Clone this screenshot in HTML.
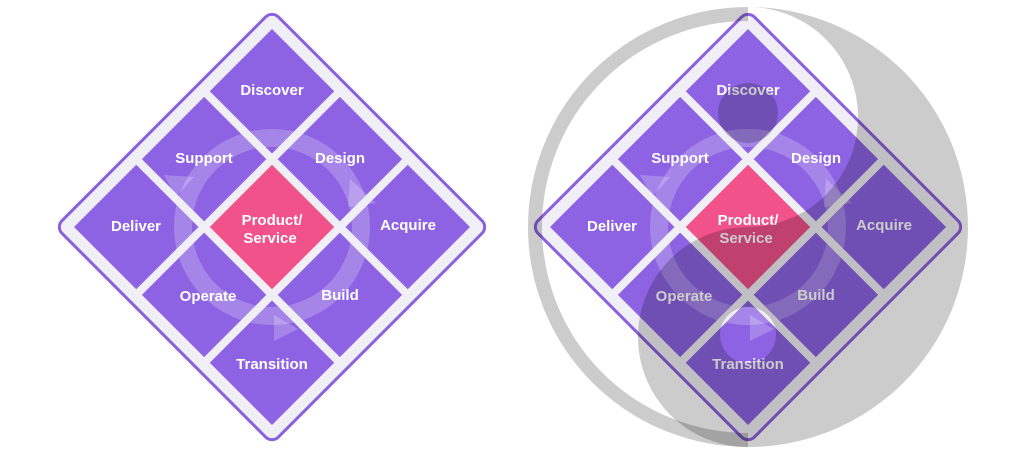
<!DOCTYPE html>
<html><head><meta charset="utf-8"><style>
html,body{margin:0;padding:0;background:#fff;width:1024px;height:459px;overflow:hidden}
text{font-family:"Liberation Sans",sans-serif;font-weight:bold;font-size:15px;fill:#fff;text-anchor:middle}
</style></head><body>
<svg width="1024" height="459" viewBox="0 0 1024 459" xmlns="http://www.w3.org/2000/svg">
<defs>
<clipPath id="tiles">
<rect x="-140" y="-140" width="88" height="88"/><rect x="-44" y="-140" width="88" height="88"/><rect x="52" y="-140" width="88" height="88"/>
<rect x="-140" y="-44" width="88" height="88"/><rect x="52" y="-44" width="88" height="88"/>
<rect x="-140" y="52" width="88" height="88"/><rect x="-44" y="52" width="88" height="88"/><rect x="52" y="52" width="88" height="88"/>
</clipPath>
<g id="dia">
<g transform="rotate(45)">
<rect x="-153" y="-153" width="306" height="306" rx="9" fill="#f0eff5" stroke="#8a60df" stroke-width="3"/>
<g fill="#8d63e3">
<rect x="-140" y="-140" width="88" height="88"/><rect x="-44" y="-140" width="88" height="88"/><rect x="52" y="-140" width="88" height="88"/>
<rect x="-140" y="-44" width="88" height="88"/><rect x="52" y="-44" width="88" height="88"/>
<rect x="-140" y="52" width="88" height="88"/><rect x="-44" y="52" width="88" height="88"/><rect x="52" y="52" width="88" height="88"/>
</g>
<rect x="-44" y="-44" width="88" height="88" fill="#f15289"/>
<g clip-path="url(#tiles)">
<circle cx="0" cy="0" r="89" fill="none" stroke="#fff" stroke-opacity="0.22" stroke-width="18"/>
<g fill="#fff" fill-opacity="0.22" transform="rotate(-45)">
<polygon points="-108,-52 -78,-50 -96,-30"/>
<polygon points="78,-48 104,-24 76,-20"/>
<polygon points="2,88 26,102 2,114"/>
</g>
</g>
</g>
<text x="0" y="-132">Discover</text>
<text x="-68" y="-64">Support</text>
<text x="68" y="-64">Design</text>
<text x="-136" y="4">Deliver</text>
<text x="136" y="3">Acquire</text>
<text x="0" y="-2">Product/</text>
<text x="-2" y="16">Service</text>
<text x="-64" y="74">Operate</text>
<text x="68" y="73">Build</text>
<text x="0" y="142">Transition</text>
</g>
</defs>
<use href="#dia" transform="translate(272,227)"/>
<use href="#dia" transform="translate(748,227)"/>
<g fill="#000" fill-opacity="0.2">
<path fill-rule="evenodd" d="M748,7 A220,220 0 0 1 748,447 A110,110 0 0 1 748,227 A110,110 0 0 0 748,7 Z M748,307 a28,28 0 1 0 0.01,0 Z"/>
<circle cx="748" cy="113" r="30"/>
</g>
<path d="M748,14 A213,213 0 0 0 748,440" fill="none" stroke="#000" stroke-opacity="0.2" stroke-width="14"/>
</svg>
</body></html>
